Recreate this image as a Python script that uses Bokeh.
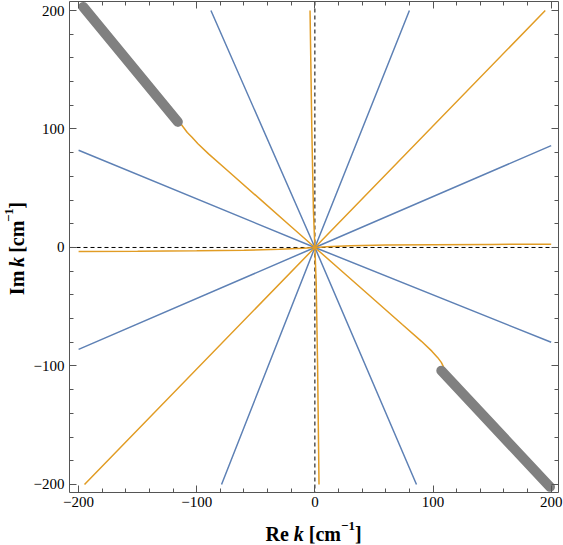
from math import pi
from bokeh.plotting import figure
from bokeh.layouts import column, row
from bokeh.models import Span, Label, LinearAxis, FixedTicker, Range1d
from bokeh.embed import file_html
from bokeh.resources import INLINE

# ---------------- data ----------------
major_ticks = [-200, -100, 0, 100, 200]
minor_ticks = list(range(-200, 201, 20))
tick_labels = {-200: "\u2212200", -100: "\u2212100", 0: "0", 100: "100", 200: "200"}

# blue branches (straight rays through the origin)
blue1_x = [-200, 0, 200]
blue1_y = [82, 0, -80]
blue2_x = [-88, 0, 86]
blue2_y = [200, 0, -200]
blue3_x = [80, 0, -79]
blue3_y = [200, 0, -200]
blue4_x = [200, 0, -200]
blue4_y = [86, 0, -86]

# orange branches
orange_v_x = [-4.1, -2.6, -1.2, 0, 1.1, 2.3, 3.5]
orange_v_y = [200, 100, 30, 0, -30, -100, -200]
orange_h_x = [-200, -150, -100, -60, -30, -10, 0, 10, 30, 60, 100, 150, 200]
orange_h_y = [-3.5, -3.2, -2.8, -2.3, -1.5, -0.6, 0, 0.6, 1.5, 2.1, 2.4, 2.6, 2.8]
orange_d_x = [-195, 0, 195]
orange_d_y = [-200, 0, 200]
orange_c_x = [-200, -160, -114, -111, -108, -104, -99, -90, -74, -45, -20, 0,
              20, 45, 74, 90, 99, 104, 107, 109, 111, 155, 201]
orange_c_y = [205, 158, 105, 101, 97, 93, 87.5, 79, 65, 39.5, 17.5, 0,
              -17.5, -39.5, -65, -79, -87.5, -93, -97, -101, -104, -152, -204]

# grey thick segments
grey1_x = [-196, -116]
grey1_y = [203, 106]
grey2_x = [107, 199]
grey2_y = [-104, -202]

x_title = ["Re", "k", "[cm", "\u22121", "]"]
y_title = ["Im", "k", "[cm", "\u22121", "]"]

BLUE = "#5E81B5"
ORANGE = "#E19C24"
GREY = "#808080"
FRAME = "#555555"
SERIF = "Liberation Serif"

p = figure(width=533, height=515, output_backend="svg", toolbar_location=None,
           x_range=Range1d(-207.7, 206.2), y_range=Range1d(-206.8, 207.6),
           min_border_left=38, min_border_right=5, min_border_top=1,
           min_border_bottom=23, x_axis_location=None, y_axis_location=None)
p.grid.visible = False
p.outline_line_color = None
p.background_fill_color = "white"
p.border_fill_color = "white"


def make_axis(show_labels):
    ax = LinearAxis(ticker=FixedTicker(ticks=major_ticks, minor_ticks=minor_ticks))
    ax.axis_line_color = FRAME
    ax.major_tick_line_color = FRAME
    ax.minor_tick_line_color = FRAME
    ax.major_tick_in = 7
    ax.major_tick_out = 0
    ax.minor_tick_in = 4
    ax.minor_tick_out = 0
    if show_labels:
        ax.major_label_overrides = tick_labels
        ax.major_label_text_font = SERIF
        ax.major_label_text_font_size = "15px"
        ax.major_label_text_color = "black"
    else:
        ax.major_label_text_font_size = "0px"
        ax.major_label_text_alpha = 0
        ax.major_label_standoff = 0
    return ax


bx = make_axis(True)
bx.major_label_standoff = 4
p.add_layout(bx, "below")
ly = make_axis(True)
ly.major_label_standoff = 5
p.add_layout(ly, "left")
p.add_layout(make_axis(False), "above")
p.add_layout(make_axis(False), "right")

# dashed axes lines
for dim in ("width", "height"):
    s = Span(location=0, dimension=dim, line_color="black", line_width=1,
             line_dash="4 3")
    s.level = "underlay"
    p.add_layout(s)

lw = 1.5
for xs, ys in [(blue1_x, blue1_y), (blue2_x, blue2_y), (blue3_x, blue3_y), (blue4_x, blue4_y)]:
    p.line(xs, ys, line_color=BLUE, line_width=lw)
for xs, ys in [(orange_v_x, orange_v_y), (orange_h_x, orange_h_y),
               (orange_d_x, orange_d_y), (orange_c_x, orange_c_y)]:
    p.line(xs, ys, line_color=ORANGE, line_width=lw)
for xs, ys in [(grey1_x, grey1_y), (grey2_x, grey2_y)]:
    p.line(xs, ys, line_color=GREY, line_width=10, line_cap="round")


# ---------------- axis titles in thin strips ----------------
def strip(w, h):
    f = figure(width=w, height=h, output_backend="svg", toolbar_location=None,
               x_range=Range1d(0, w), y_range=Range1d(0, h), min_border=0,
               x_axis_location=None, y_axis_location=None)
    f.grid.visible = False
    f.outline_line_color = None
    f.background_fill_color = "white"
    f.border_fill_color = "white"
    return f


FS = "20px"
SUP = "13px"
styles = ["bold", "bold italic", "bold", "bold", "bold"]
sizes = [FS, FS, FS, SUP, FS]
offsets = [0, 28.3, 43.3, 75.5, 89.4]
raise_ = [0, 0, 0, 8, 0]

bottom = strip(563, 30)
for t, st, sz, off, r in zip(x_title, styles, sizes, offsets, raise_):
    bottom.add_layout(Label(x=265 + off, y=12 + r, text=t, text_font=SERIF,
                            text_font_size=sz, text_font_style=st, text_color="black",
                            text_align="left", text_baseline="alphabetic"))

left = strip(30, 515)
y_offsets = [0, 29.4, 44.4, 76.6, 90.5]
for t, st, sz, off, r in zip(y_title, styles, sizes, y_offsets, raise_):
    left.add_layout(Label(x=16 - r, y=207 + off, text=t, text_font=SERIF,
                          text_font_size=sz, text_font_style=st, text_color="black",
                          text_align="left", text_baseline="alphabetic", angle=pi / 2))

layout = column(row(left, p, spacing=0), bottom, spacing=0)
open("out.html", "w").write(file_html(layout, INLINE))
